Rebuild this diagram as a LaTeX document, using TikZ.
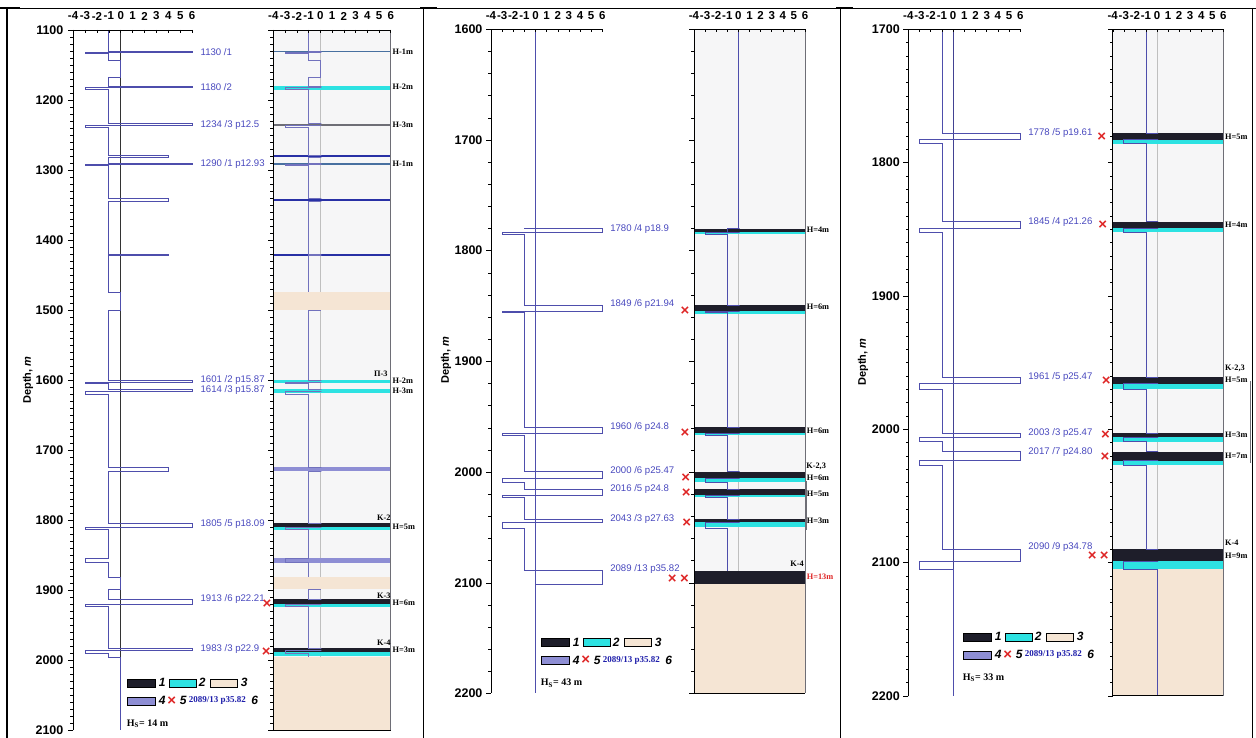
\documentclass[tikz,border=0pt]{standalone}
\usepackage{fontspec}
\setmainfont{Liberation Serif}
\setsansfont{Liberation Sans}
\usetikzlibrary{positioning}

\definecolor{logblue}{RGB}{78,78,172}
\definecolor{txtblue}{RGB}{72,72,190}
\definecolor{legblue}{RGB}{30,30,170}
\definecolor{coal}{RGB}{30,30,42}
\definecolor{aqua}{RGB}{45,226,226}
\definecolor{sand}{RGB}{245,229,212}
\definecolor{lilac}{RGB}{142,142,212}
\definecolor{trackbg}{RGB}{246,246,247}
\definecolor{crossred}{RGB}{222,38,38}
\definecolor{steel}{RGB}{72,112,160}
\definecolor{deepblue}{RGB}{40,48,165}
\definecolor{slate}{RGB}{110,110,118}

\tikzset{
  prof/.style={logblue, line width=0.8pt},
  axisline/.style={black, line width=0.8pt},
  tickline/.style={black, line width=0.5pt},
  numlbl/.style={font=\sffamily\bfseries\fontsize{11.5}{11.5}\selectfont, inner sep=0pt},
  depthlbl/.style={font=\sffamily\bfseries\fontsize{12.5}{12.5}\selectfont, anchor=east, inner sep=0pt},
  depthname/.style={font=\sffamily\bfseries\fontsize{11}{11}\selectfont, rotate=90, inner sep=0pt},
  smpl/.style={font=\sffamily\fontsize{9.6}{9.6}\selectfont, text=txtblue, anchor=west, inner sep=0pt},
  layerlbl/.style={font=\bfseries\fontsize{8.3}{8.3}\selectfont, anchor=west, inner sep=0pt},
  xmark/.style={font=\sffamily\bfseries\fontsize{15}{15}\selectfont, text=crossred, inner sep=0pt},
  legnum/.style={font=\sffamily\bfseries\itshape\fontsize{12}{12}\selectfont, anchor=west, inner sep=0pt},
  legtxt/.style={font=\bfseries\fontsize{9}{9}\selectfont, text=legblue, anchor=west, inner sep=0pt},
  hslbl/.style={font=\bfseries\fontsize{10}{10}\selectfont, anchor=west, inner sep=0pt}
}

% depth axis: first, second minor, last, second major
\newcommand{\depthticks}[4]{%
  \draw[axisline] (-4,#1) -- (-4,#3);
  \foreach \d in {#1,#2,...,#3} \draw[tickline] (-4,\d) -- (-4.25,\d);
  \foreach \d in {#1,#4,...,#3} \draw[tickline] (-4,\d) -- (-4.45,\d);
}
% value axis: top, tick length, label depth
\newcommand{\valueaxis}[3]{%
  \draw[axisline] (-4,#1) -- (6,#1);
  \foreach \v in {-4,...,6} {
    \draw[tickline] (\v,#1) -- (\v,#1+#2);
    \node[numlbl] (n\v) at (\v,#3) {\v};
  }
}

% depth / right-spike bottom / left-spike bottom / right value / left value
\def\wellA{1130/1131.5/1133/6/-3, 1143/1168/1168/0/-1, 1180/1182/1185/6/-3,
  1234/1236.5/1239/6/-3, 1279/1282/1282/4/-1, 1290/1292/1294/6/-3,
  1341/1345/1345/4/-1, 1420/1422/1422/4/-1, 1475/1500/1500/0/-1,
  1600/1603/1605/6/-3, 1613/1617/1621/6/-3, 1725/1730/1730/4/-1,
  1805/1810/1813/6/-3, 1855/1855/1861/-1/-3, 1882/1899/1899/0/-1,
  1913/1920/1923/6/-3, 1984/1986/1991/6/-3}
\def\wellB{1780/1783.5/1785/6/-3, 1849/1854.5/1856/6/-3, 1959.5/1965.3/1966.5/6/-3,
  1999.6/2005.6/2009.2/6/-3, 2015.5/2020.7/2022.5/6/-3, 2042.6/2045.7/2050.5/6/-3}
\def\wellC{1778/1783/1786/6/-3, 1844.3/1849.3/1852.3/6/-3, 1961/1966/1970/6/-3,
  2003/2006/2009.3/6/-3, 2016.8/2023.5/2026.8/6/-3, 2090/2098.8/2105/6/-3}

\begin{document}
\begin{tikzpicture}[x=1pt,y=-1pt]
  \useasboundingbox (0,0) rectangle (1256,738);
  % frames
  \draw[line width=0.6pt] (0,8) -- (1256,8);
  \draw[line width=2pt] (0,8) -- (20,8);
  \draw[line width=2pt] (420,8) -- (437,8);
  \draw[line width=2pt] (836,8) -- (853,8);
  \draw[line width=1.2pt] (7,8) -- (7,738);
  \draw[line width=0.8pt] (423,8) -- (423,738);
  \draw[line width=0.8pt] (840,8) -- (840,738);
  \draw[line width=0.8pt] (1252,8) -- (1252,738);

  \node[depthname] (depthA) at (28,380) {Depth, \textit{m}};
  \node[depthname] (depthB) at (446,360) {Depth, \textit{m}};
  \node[depthname] (depthC) at (863,362) {Depth, \textit{m}};

  % ---------- well 1, log
  \begin{scope}[shift={(120.7,-740)}, xscale=11.9, yscale=0.7]
    \draw[black!80, line width=0.8pt] (0,1100) -- (0,1996);
    \draw[prof] (-1,1100) \foreach \d/\a/\b/\r/\l in \wellA {-- (-1,\d) -- (\r,\d) -- (\r,\a) -- (\l,\a) -- (\l,\b) -- (-1,\b)} -- (-1,1996) -- (0,1996) -- (0,2100);
    \depthticks{1100}{1110}{2100}{1200}
    \valueaxis{1100}{4.3}{1080}
    \foreach \d in {1100,1200,...,2100} \node[depthlbl] (depA\d) at (-4.8,\d) {\d};
    \node[smpl] (sA1) at (6.7,1131) {1130 /1};
    \node[smpl] (sA2) at (6.7,1181.4) {1180 /2};
    \node[smpl] (sA3) at (6.7,1235.7) {1234 /3 p12.5};
    \node[smpl] (sA4) at (6.7,1291.4) {1290 /1 p12.93};
    \node[smpl] (sA5) at (6.7,1600.5) {1601 /2 p15.87};
    \node[smpl] (sA6) at (6.7,1614.5) {1614 /3 p15.87};
    \node[smpl] (sA7) at (6.7,1805.7) {1805 /5 p18.09};
    \node[smpl] (sA8) at (6.7,1913.5) {1913 /6 p22.21};
    \node[smpl] (sA9) at (6.7,1984.5) {1983 /3 p22.9};
  \end{scope}

  % ---------- well 1, column
  \begin{scope}[shift={(320.3,-740)}, xscale=11.74, yscale=0.7]
    \fill[trackbg] (-4,1100) rectangle (6,2100);
    \draw[black!25, line width=0.8pt] (0,1100) -- (0,1996);
    \foreach \t/\b/\c in {1130/1132/steel, 1180/1186/aqua, 1235/1237.5/slate,
      1279/1281.5/deepblue, 1290/1292.5/steel, 1341/1345/deepblue, 1420/1422.5/deepblue,
      1600/1604.5/aqua, 1613/1618/aqua, 1724/1730/lilac, 1805/1810/coal, 1810/1814/aqua,
      1855/1861/lilac, 1913/1920/coal, 1920/1924/aqua, 1983/1988/coal, 1988/1994/aqua}
      \fill[\c] (-4,\t) rectangle (6,\b);
    \begin{scope}
      \clip (-4,1100) rectangle (0.1,2100);
      \draw[prof, logblue!80] (-1,1100) \foreach \d/\a/\b/\r/\l in \wellA {-- (-1,\d) -- (\r,\d) -- (\r,\a) -- (\l,\a) -- (\l,\b) -- (-1,\b)} -- (-1,1996);
    \end{scope}
    \foreach \t/\b in {1475/1500, 1882/1899, 1996/2100} \fill[sand] (-4,\t) rectangle (6,\b);
    \draw[slate, line width=0.8pt] (6,1100) -- (6,2100);
    \draw[axisline] (-4,2100) -- (6,2100);
    \depthticks{1100}{1110}{2100}{1200}
    \valueaxis{1100}{4.3}{1080}
    \node[layerlbl] (hA1) at (6.15,1131.4) {H-1m};
    \node[layerlbl] (hA2) at (6.15,1181.4) {H-2m};
    \node[layerlbl] (hA3) at (6.15,1235.7) {H-3m};
    \node[layerlbl] (hA4) at (6.15,1291.4) {H-1m};
    \node[layerlbl, anchor=east] (pA) at (5.75,1591.4) {П-3};
    \node[layerlbl] (hA5) at (6.15,1601.4) {H-2m};
    \node[layerlbl] (hA6) at (6.15,1615.7) {H-3m};
    \node[layerlbl, anchor=east] (kA2) at (6,1797) {K-2};
    \node[layerlbl] (hA7) at (6.15,1810) {H=5m};
    \node[layerlbl, anchor=east] (kA3) at (6,1908.6) {K-3};
    \node[layerlbl] (hA8) at (6.15,1918.6) {H=6m};
    \node[layerlbl, anchor=east] (kA4) at (6,1975.7) {K-4};
    \node[layerlbl] (hA9) at (6.15,1985.7) {H=3m};
    \node[xmark] (xA1) at (-4.55,1920) {×};
    \node[xmark] (xA2) at (-4.6,1989) {×};
  \end{scope}

  % ---------- well 2, log
  \begin{scope}[shift={(535.5,-1741.9)}, xscale=11.13, yscale=1.107]
    \draw[prof] (0,1600) -- (0,2200);
    \draw[prof] (-1,1780) \foreach \d/\a/\b/\r/\l in \wellB {-- (-1,\d) -- (\r,\d) -- (\r,\a) -- (\l,\a) -- (\l,\b) -- (-1,\b)} -- (-1,2089) -- (6,2089) -- (6,2101.4) -- (0,2101.4);
    \depthticks{1600}{1620}{2200}{1700}
    \valueaxis{1600}{2.7}{1587.7}
    \foreach \d in {1600,1700,...,2200} \node[depthlbl] (depB\d) at (-4.75,\d) {\d};
    \node[smpl] (sB1) at (6.7,1780.4) {1780 /4 p18.9};
    \node[smpl] (sB2) at (6.7,1848.2) {1849 /6 p21.94};
    \node[smpl] (sB3) at (6.7,1959.3) {1960 /6 p24.8};
    \node[smpl] (sB4) at (6.7,1998.7) {2000 /6 p25.47};
    \node[smpl] (sB5) at (6.7,2015.5) {2016 /5 p24.8};
    \node[smpl] (sB6) at (6.7,2042.6) {2043 /3 p27.63};
    \node[smpl] (sB7) at (6.7,2087.5) {2089 /13 p35.82};
  \end{scope}

  % ---------- well 2, column
  \begin{scope}[shift={(738.4,-1741.9)}, xscale=11.1, yscale=1.107]
    \fill[trackbg] (-4,1600) rectangle (6,2200);
    \draw[black!25, line width=0.8pt] (0,1780) -- (0,2089);
    \draw[prof] (0,1600) -- (0,1780);
    \foreach \t/\b/\c in {1780/1783.5/coal, 1783.5/1785/aqua, 1849/1854.5/coal, 1854.5/1857/aqua,
      1959.5/1965/coal, 1965/1966.5/aqua, 1999.6/2005.6/coal, 2005.6/2009.2/aqua,
      2015.5/2020.7/coal, 2020.7/2022.5/aqua, 2042.6/2045/coal, 2045/2050/aqua,
      2089/2101.4/coal, 2101.4/2200/sand}
      \fill[\c] (-4,\t) rectangle (6,\b);
    \begin{scope}
      \clip (-4,1600) rectangle (0.1,2200);
      \draw[prof] (-1,1783.5) \foreach \d/\a/\b/\r/\l in \wellB {-- (-1,\d) -- (\r,\d) -- (\r,\a) -- (\l,\a) -- (\l,\b) -- (-1,\b)} -- (-1,2089);
    \end{scope}
    \draw[slate, line width=0.8pt] (6,1600) -- (6,2200);
    \draw[axisline] (-4,2200) -- (6,2200);
    \draw[slate, line width=0.5pt] (6.15,2008) -- (6.15,2052);
    \depthticks{1600}{1620}{2200}{1700}
    \valueaxis{1600}{2.7}{1587.7}
    \node[layerlbl] (hB1) at (6.15,1781.3) {H=4m};
    \node[layerlbl] (hB2) at (6.15,1850.9) {H=6m};
    \node[layerlbl] (hB3) at (6.15,1962.9) {H=6m};
    \node[layerlbl] (kB23) at (6.1,1995.1) {K-2,3};
    \node[layerlbl] (hB4) at (6.15,2005) {H=6m};
    \node[layerlbl] (hB5) at (6.15,2019.2) {H=5m};
    \node[layerlbl] (hB6) at (6.15,2044) {H=3m};
    \node[layerlbl, anchor=east] (kB4) at (5.9,2082.4) {K-4};
    \node[layerlbl, text=crossred] (hB7) at (6.15,2095) {H=13m};
    \node[xmark] (xB1) at (-4.8,1854.7) {×};
    \node[xmark] (xB2) at (-4.8,1964.4) {×};
    \node[xmark] (xB3) at (-4.75,2005.6) {×};
    \node[xmark] (xB4) at (-4.7,2019.2) {×};
    \node[xmark] (xB5) at (-4.65,2045.7) {×};
    \node[xmark] (xB6) at (-5.95,2096.5) {×};
    \node[xmark] (xB7) at (-4.85,2096.5) {×};
  \end{scope}

  % ---------- well 3, log
  \begin{scope}[shift={(953.1,-2237.4)}, xscale=11.2, yscale=1.3333]
    \draw[prof, logblue!85!black] (0,1700) -- (0,2105);
    \draw[prof] (-1,1700) \foreach \d/\a/\b/\r/\l in \wellC {-- (-1,\d) -- (\r,\d) -- (\r,\a) -- (\l,\a) -- (\l,\b) -- (-1,\b)} -- (0,2105) -- (0,2200);
    \depthticks{1700}{1710}{2200}{1800}
    \valueaxis{1700}{2.25}{1689.8}
    \foreach \d in {1700,1800,...,2200} \node[depthlbl] (depC\d) at (-4.75,\d) {\d};
    \node[smpl] (sC1) at (6.7,1778) {1778 /5 p19.61};
    \node[smpl] (sC2) at (6.7,1844.5) {1845 /4 p21.26};
    \node[smpl] (sC3) at (6.7,1961) {1961 /5 p25.47};
    \node[smpl] (sC4) at (6.7,2003) {2003 /3 p25.47};
    \node[smpl] (sC5) at (6.7,2016.8) {2017 /7 p24.80};
    \node[smpl] (sC6) at (6.7,2088.5) {2090 /9 p34.78};
  \end{scope}

  % ---------- well 3, column
  \begin{scope}[shift={(1157,-2237.4)}, xscale=11.06, yscale=1.3333]
    \fill[trackbg] (-4,1700) rectangle (6,2200);
    \draw[black!25, line width=0.8pt] (0,1700) -- (0,2105);
    \foreach \t/\b/\c in {1778/1783/coal, 1783/1786/aqua, 1844.3/1849.3/coal, 1849.3/1852.3/aqua,
      1961/1966/coal, 1966/1970/aqua, 2003/2006/coal, 2006/2009.3/aqua,
      2016.8/2023.5/coal, 2023.5/2026.8/aqua, 2090/2099/coal, 2099/2105/aqua, 2105/2200/sand}
      \fill[\c] (-4,\t) rectangle (6,\b);
    \begin{scope}
      \clip (-4,1700) rectangle (0.1,2200);
      \draw[prof] (-1,1700) \foreach \d/\a/\b/\r/\l in \wellC {-- (-1,\d) -- (\r,\d) -- (\r,\a) -- (\l,\a) -- (\l,\b) -- (-1,\b)} -- (0,2105) -- (0,2200);
    \end{scope}
    \draw[slate, line width=0.8pt] (6,1700) -- (6,2200);
    \draw[axisline] (-4,2200) -- (6,2200);
    \draw[slate, line width=0.5pt] (8.4,1964) -- (8.4,2025.5);
    \depthticks{1700}{1710}{2200}{1800}
    \valueaxis{1700}{2.25}{1689.8}
    \node[layerlbl] (hC1) at (6.15,1780.5) {H=5m};
    \node[layerlbl] (hC2) at (6.15,1846.8) {H=4m};
    \node[layerlbl] (kC23) at (6.15,1954.3) {K-2,3};
    \node[layerlbl] (hC3) at (6.15,1963) {H=5m};
    \node[layerlbl] (hC4) at (6.15,2004.3) {H=3m};
    \node[layerlbl] (hC5) at (6.15,2020) {H=7m};
    \node[layerlbl] (kC4) at (6.15,2085.5) {K-4};
    \node[layerlbl] (hC6) at (6.15,2095) {H=9m};
    \node[xmark] (xC1) at (-5.0,1781) {×};
    \node[xmark] (xC2) at (-4.9,1847.3) {×};
    \node[xmark] (xC3) at (-4.6,1964.3) {×};
    \node[xmark] (xC4) at (-4.65,2004.8) {×};
    \node[xmark] (xC5) at (-4.7,2021.3) {×};
    \node[xmark] (xC6) at (-5.85,2095) {×};
    \node[xmark] (xC7) at (-4.76,2095) {×};
  \end{scope}

  % ---------- legends
  \foreach \x/\y/\h/\n in {126.7/682.7/14/A, 540.7/642.3/43/B, 962.7/636.7/33/C} {
    \draw[line width=0.4pt, fill=coal] (\x,\y-4) rectangle (\x+28,\y+4);
    \node[legnum] (one\n) at (\x+32,\y) {1};
    \draw[line width=0.4pt, fill=aqua] (\x+42,\y-4) rectangle (\x+69,\y+4);
    \node[legnum] (two\n) at (\x+72,\y) {2};
    \draw[line width=0.4pt, fill=sand] (\x+83,\y-4) rectangle (\x+110,\y+4);
    \node[legnum] (three\n) at (\x+114,\y) {3};
    \draw[line width=0.4pt, fill=lilac] (\x,\y+14) rectangle (\x+28,\y+22);
    \node[legnum] (four\n) at (\x+32,\y+18) {4};
    \node[xmark] (cross\n) at (\x+45,\y+18) {×};
    \node[legnum] (five\n) at (\x+53,\y+18) {5};
    \node[legtxt] (smp\n) at (\x+62,\y+18) {2089/13 p35.82};
    \node[legnum, right=5pt of smp\n] (six\n) {6};
    \node[hslbl] (hs\n) at (\x,\y+41) {H\textsubscript{S}= \h\ m};
  }
\end{tikzpicture}
\end{document}
